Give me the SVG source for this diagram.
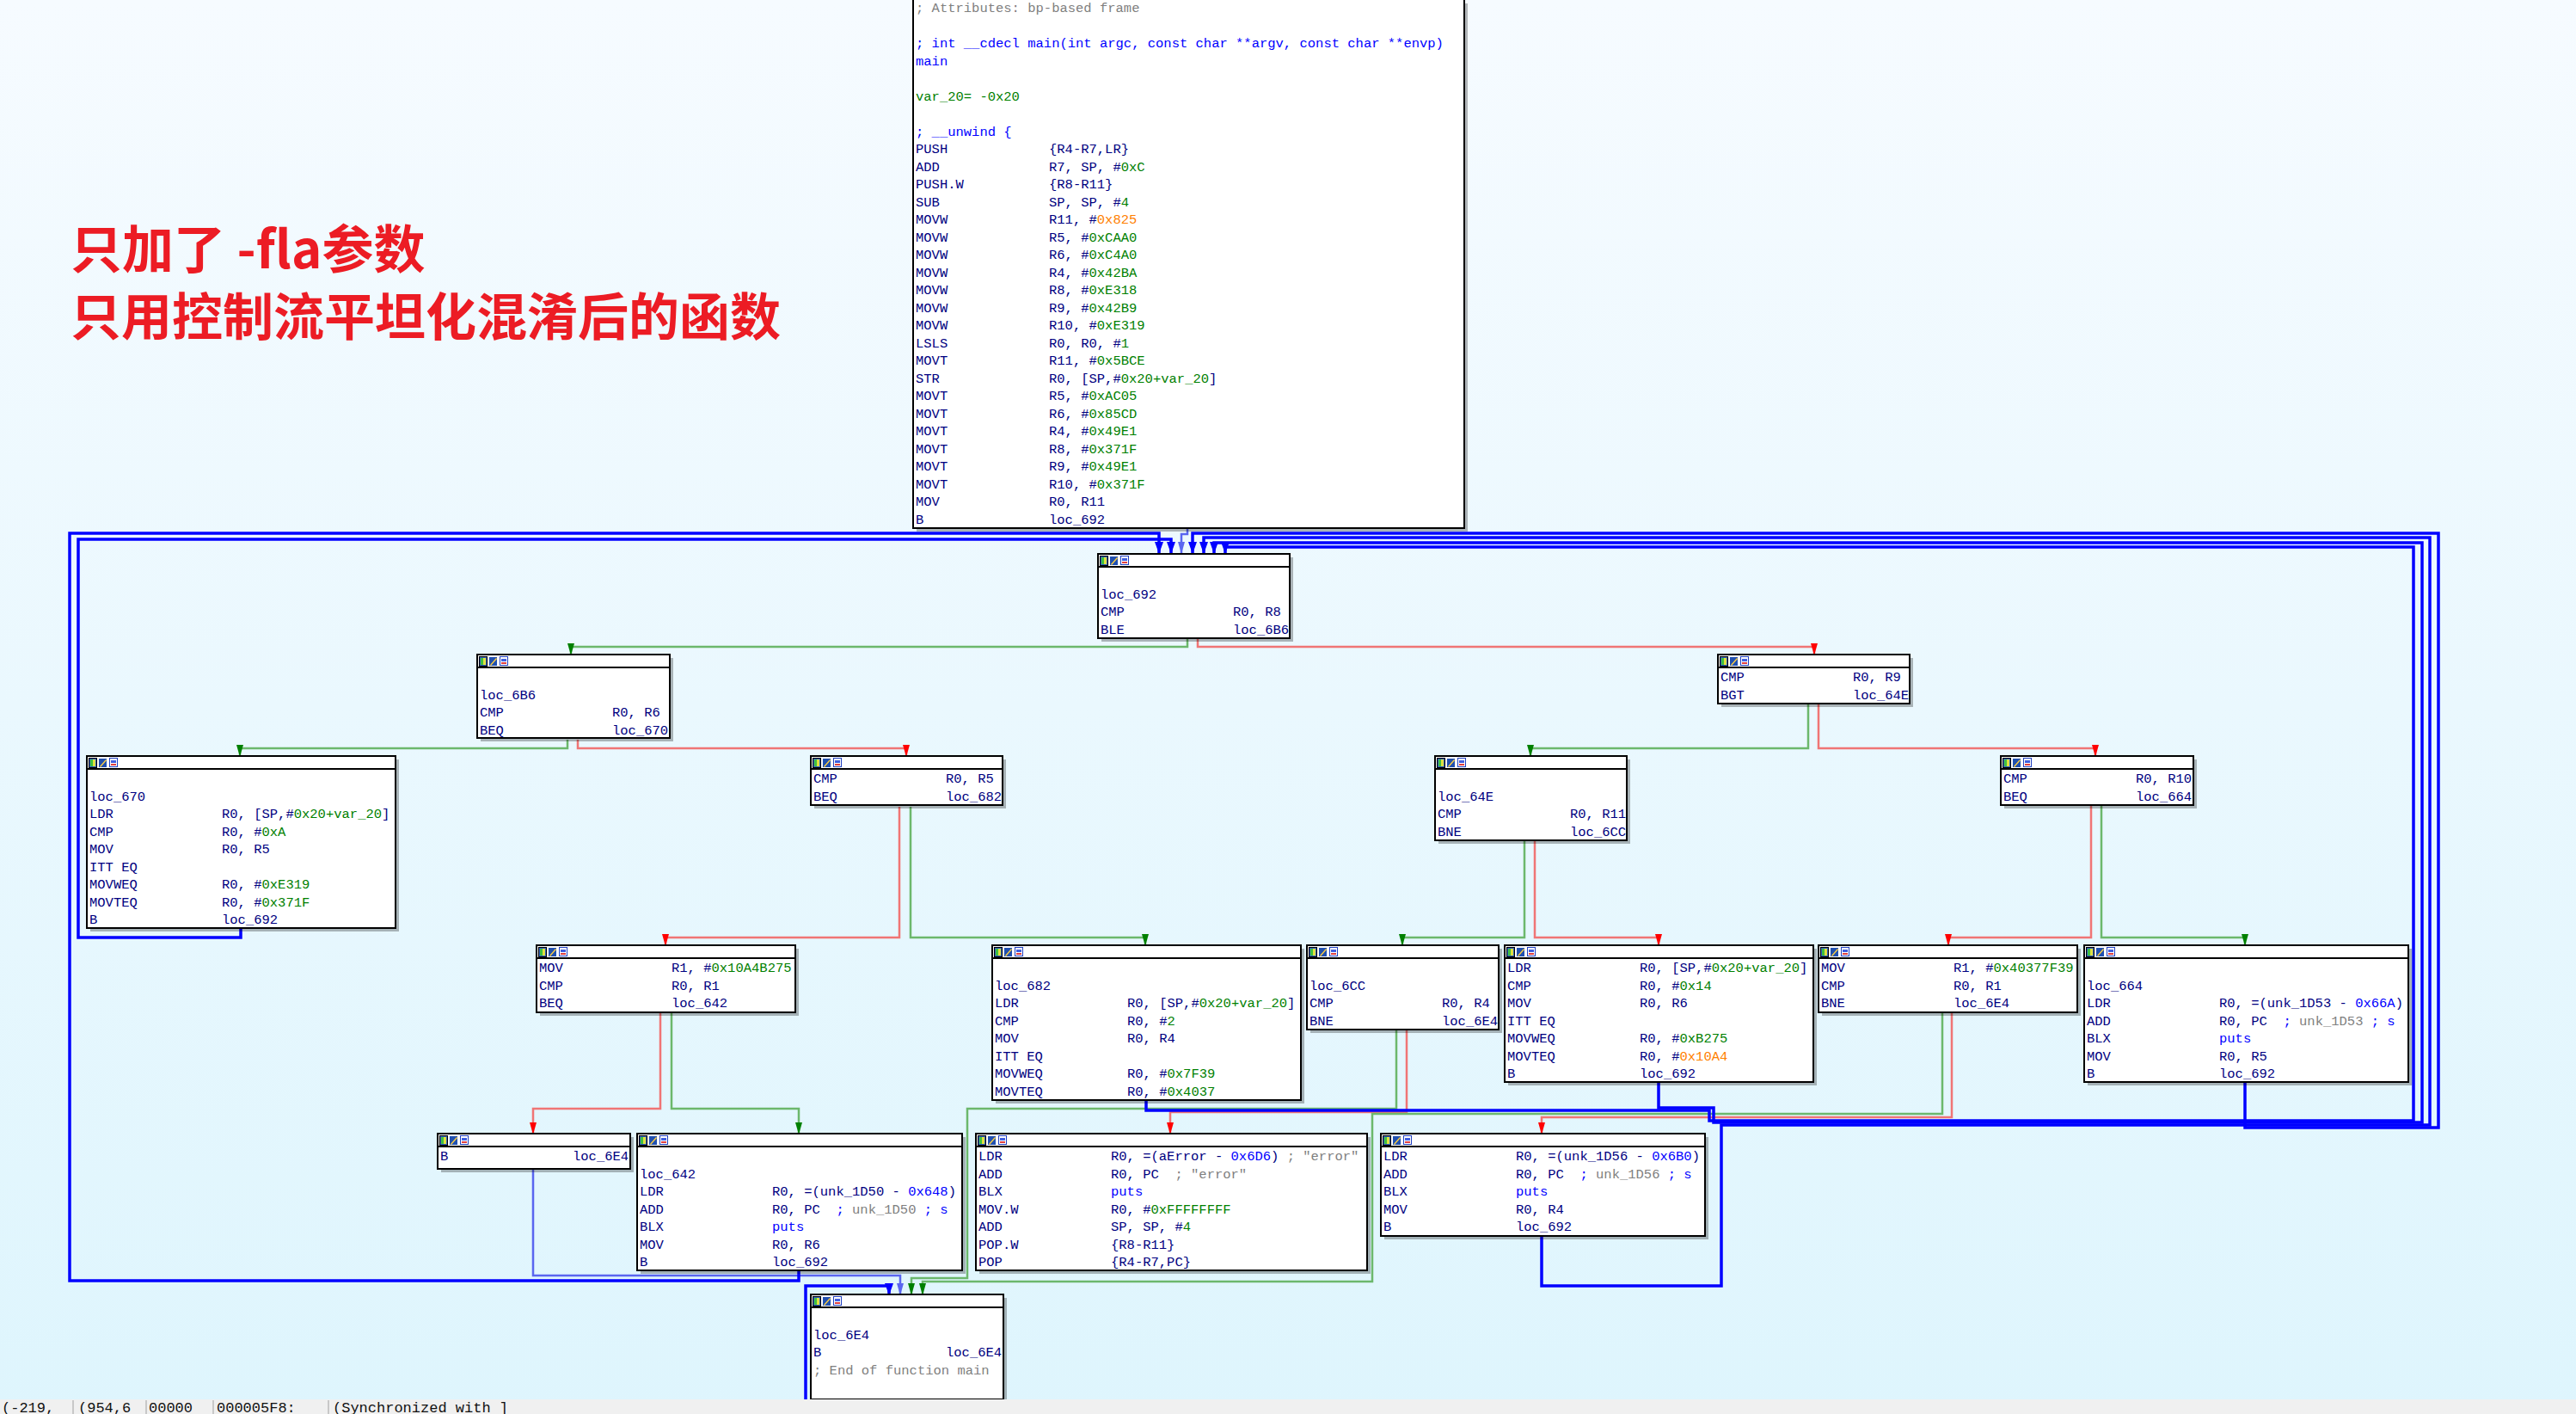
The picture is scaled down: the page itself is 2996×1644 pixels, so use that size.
<svg xmlns="http://www.w3.org/2000/svg" width="2996" height="1644" viewBox="0 0 2996 1644">
<defs>
<linearGradient id="bg" x1="0" y1="0" x2="0" y2="1"><stop offset="0" stop-color="#f6fbff"/><stop offset="1" stop-color="#def5fd"/></linearGradient>
<marker id="ab" markerUnits="userSpaceOnUse" markerWidth="12" markerHeight="14" refX="6" refY="13" orient="0" viewBox="0 0 12 14"><path d="M1 0 L11 0 L6 14 Z" fill="#0000ff"/></marker>
<marker id="al" markerUnits="userSpaceOnUse" markerWidth="12" markerHeight="14" refX="6" refY="13" orient="0" viewBox="0 0 12 14"><path d="M2 0 L10 0 L6 14 Z" fill="#5a66f0"/></marker>
<marker id="ag" markerUnits="userSpaceOnUse" markerWidth="10" markerHeight="14" refX="5" refY="13" orient="0" viewBox="0 0 10 14"><path d="M1 0 L9 0 L5 14 Z" fill="#008000"/></marker>
<marker id="ar" markerUnits="userSpaceOnUse" markerWidth="10" markerHeight="14" refX="5" refY="13" orient="0" viewBox="0 0 10 14"><path d="M1 0 L9 0 L5 14 Z" fill="#ff0000"/></marker>
<symbol id="ic" viewBox="0 0 34 12" width="34" height="12">
<rect x="0.5" y="0.5" width="9" height="11" fill="#3060c0" stroke="#000" stroke-width="1"/><rect x="2" y="2" width="3" height="8" fill="#40c040"/><rect x="5" y="2" width="3" height="8" fill="#e0e040"/>
<rect x="12" y="1" width="9" height="10" fill="#2050b0"/><path d="M13 10 L20 2 L21 3 L14 11 Z" fill="#ffd040"/>
<rect x="24.5" y="0.5" width="9" height="10" fill="#fff" stroke="#2040c0"/><rect x="26" y="3" width="6" height="3" fill="#4060e0"/><rect x="26" y="7" width="6" height="2" fill="#e04040"/>
</symbol>
</defs>
<style>
.t{font-family:"Liberation Mono","DejaVu Sans Mono",monospace;font-size:15.5px;fill:#000080;white-space:pre}
.n{fill:#008000}.o{fill:#ff8000}.g{fill:#808080}.b{fill:#0000ff}
.box{fill:#ffffff;stroke:#000;stroke-width:2}
.sh{fill:#000;opacity:0.28}
.hd{stroke:#000;stroke-width:2}
.eg{fill:none;stroke:#6cb86c;stroke-width:2.5}
.er{fill:none;stroke:#f07575;stroke-width:2.5}
.eb{fill:none;stroke:#0000ff;stroke-width:3.5}
.el{fill:none;stroke:#5a66f0;stroke-width:2.5}
.title{font-family:"Noto Sans CJK SC","Noto Sans",sans-serif;font-weight:bold;fill:#ec1c24}
.st{font-family:"Liberation Mono",monospace;font-size:17px;fill:#111;white-space:pre}
</style>
<rect width="2996" height="1644" fill="url(#bg)"/>
<text class="title" x="82" y="312" font-size="60">只加了 -fla参数</text>
<text class="title" x="82" y="390" font-size="59">只用控制流平坦化混淆后的函数</text>

<g id="connectors">
<path class="eg" d="M1381 742 V752 H664 V761" marker-end="url(#ag)"/>
<path class="er" d="M1393 742 V752 H2110 V761" marker-end="url(#ar)"/>
<path class="eg" d="M660 860 V870 H279 V879" marker-end="url(#ag)"/>
<path class="er" d="M672 860 V870 H1054 V879" marker-end="url(#ar)"/>
<path class="eg" d="M2103 818 V870 H1780 V879" marker-end="url(#ag)"/>
<path class="er" d="M2115 818 V870 H2437 V879" marker-end="url(#ar)"/>
<path class="er" d="M1046 938 V1090 H774 V1099" marker-end="url(#ar)"/>
<path class="eg" d="M1059 938 V1090 H1332 V1099" marker-end="url(#ag)"/>
<path class="eg" d="M1773 978 V1090 H1631 V1099" marker-end="url(#ag)"/>
<path class="er" d="M1785 978 V1090 H1929 V1099" marker-end="url(#ar)"/>
<path class="er" d="M2432 936 V1090 H2266 V1099" marker-end="url(#ar)"/>
<path class="eg" d="M2444 936 V1090 H2611 V1099" marker-end="url(#ag)"/>
<path class="er" d="M768 1177 V1289 H620 V1318" marker-end="url(#ar)"/>
<path class="eg" d="M781 1177 V1289 H929 V1318" marker-end="url(#ag)"/>
<path class="eg" d="M1624 1197 V1289 H1125 V1486 H1060 V1505" marker-end="url(#ag)"/>
<path class="er" d="M1636 1197 V1293 H1361 V1318" marker-end="url(#ar)"/>
<path class="eg" d="M2259 1177 V1295 H1596 V1490 H1073 V1505" marker-end="url(#ag)"/>
<path class="er" d="M2270 1177 V1299 H1793 V1318" marker-end="url(#ar)"/>
<path class="el" d="M620 1359 V1483 H1047 V1505" marker-end="url(#al)"/>
<path class="el" d="M1381 614 V621 H1374 V643" marker-end="url(#al)"/>
<path class="eb" d="M929 1477 V1489 H81 V620 H1348 V643" marker-end="url(#ab)"/>
<path class="eb" d="M280 1078 V1090 H91 V627 H1362 V643" marker-end="url(#ab)"/>
<path class="eb" d="M1333 1279 V1291 H1988 V1303 H2807 V636 H1425 V643" marker-end="url(#ab)"/>
<path class="eb" d="M1929 1258 V1288 H1993 V1305 H2817 V631 H1412 V643" marker-end="url(#ab)"/>
<path class="eb" d="M1793 1437 V1495 H2002 V1308 H2826 V625 H1400 V643" marker-end="url(#ab)"/>
<path class="eb" d="M2611 1258 V1311 H2836 V620 H1387 V643" marker-end="url(#ab)"/>
<path class="eb" d="M1054 1623 V1644 M937 1627 V1495 H1034 V1505" marker-end="url(#ab)"/>
</g>

<g id="n_main">
<rect class="sh" x="1066" y="4" width="641" height="614"/>
<rect class="box" x="1062" y="-2" width="641" height="616"/>
<text class="t g" x="1065" y="14">; Attributes: bp-based frame</text>
<text class="t b" x="1065" y="55">; int __cdecl main(int argc, const char **argv, const char **envp)</text>
<text class="t b" x="1065" y="75.5">main</text>
<text class="t n" x="1065" y="116.5">var_20= -0x20</text>
<text class="t b" x="1065" y="157.5">; __unwind {</text>
<text class="t" x="1065" y="178">PUSH</text><text class="t" x="1220" y="178">{R4-R7,LR}</text>
<text class="t" x="1065" y="198.5">ADD</text><text class="t" x="1220" y="198.5">R7, SP, #<tspan class="n">0xC</tspan></text>
<text class="t" x="1065" y="219">PUSH.W</text><text class="t" x="1220" y="219">{R8-R11}</text>
<text class="t" x="1065" y="239.5">SUB</text><text class="t" x="1220" y="239.5">SP, SP, #<tspan class="n">4</tspan></text>
<text class="t" x="1065" y="260">MOVW</text><text class="t" x="1220" y="260">R11, #<tspan class="o">0x825</tspan></text>
<text class="t" x="1065" y="280.5">MOVW</text><text class="t" x="1220" y="280.5">R5, #<tspan class="n">0xCAA0</tspan></text>
<text class="t" x="1065" y="301">MOVW</text><text class="t" x="1220" y="301">R6, #<tspan class="n">0xC4A0</tspan></text>
<text class="t" x="1065" y="321.5">MOVW</text><text class="t" x="1220" y="321.5">R4, #<tspan class="n">0x42BA</tspan></text>
<text class="t" x="1065" y="342">MOVW</text><text class="t" x="1220" y="342">R8, #<tspan class="n">0xE318</tspan></text>
<text class="t" x="1065" y="362.5">MOVW</text><text class="t" x="1220" y="362.5">R9, #<tspan class="n">0x42B9</tspan></text>
<text class="t" x="1065" y="383">MOVW</text><text class="t" x="1220" y="383">R10, #<tspan class="n">0xE319</tspan></text>
<text class="t" x="1065" y="403.5">LSLS</text><text class="t" x="1220" y="403.5">R0, R0, #<tspan class="n">1</tspan></text>
<text class="t" x="1065" y="424">MOVT</text><text class="t" x="1220" y="424">R11, #<tspan class="n">0x5BCE</tspan></text>
<text class="t" x="1065" y="444.5">STR</text><text class="t" x="1220" y="444.5">R0, [SP,#<tspan class="n">0x20+var_20</tspan>]</text>
<text class="t" x="1065" y="465">MOVT</text><text class="t" x="1220" y="465">R5, #<tspan class="n">0xAC05</tspan></text>
<text class="t" x="1065" y="485.5">MOVT</text><text class="t" x="1220" y="485.5">R6, #<tspan class="n">0x85CD</tspan></text>
<text class="t" x="1065" y="506">MOVT</text><text class="t" x="1220" y="506">R4, #<tspan class="n">0x49E1</tspan></text>
<text class="t" x="1065" y="526.5">MOVT</text><text class="t" x="1220" y="526.5">R8, #<tspan class="n">0x371F</tspan></text>
<text class="t" x="1065" y="547">MOVT</text><text class="t" x="1220" y="547">R9, #<tspan class="n">0x49E1</tspan></text>
<text class="t" x="1065" y="567.5">MOVT</text><text class="t" x="1220" y="567.5">R10, #<tspan class="n">0x371F</tspan></text>
<text class="t" x="1065" y="588">MOV</text><text class="t" x="1220" y="588">R0, R11</text>
<text class="t" x="1065" y="608.5">B</text><text class="t" x="1220" y="608.5">loc_692</text>
</g>

<g id="n_692">
<rect class="sh" x="1281" y="648" width="223" height="98"/>
<rect class="box" x="1277" y="644" width="223" height="98"/>
<line class="hd" x1="1277" y1="659" x2="1500" y2="659"/><use href="#ic" x="1279" y="646"/>
<text class="t" x="1280" y="695.5">loc_692</text>
<text class="t" x="1280" y="716">CMP</text><text class="t" x="1434" y="716">R0, R8</text>
<text class="t" x="1280" y="736.5">BLE</text><text class="t" x="1434" y="736.5">loc_6B6</text>
</g>

<g id="n_6B6">
<rect class="sh" x="559" y="765" width="224" height="97"/>
<rect class="box" x="555" y="761" width="224" height="97"/>
<line class="hd" x1="555" y1="776" x2="779" y2="776"/><use href="#ic" x="557" y="763"/>
<text class="t" x="558" y="812.5">loc_6B6</text>
<text class="t" x="558" y="833">CMP</text><text class="t" x="712" y="833">R0, R6</text>
<text class="t" x="558" y="853.5">BEQ</text><text class="t" x="712" y="853.5">loc_670</text>
</g>

<g id="n_bgt">
<rect class="sh" x="2002" y="765" width="223" height="57"/>
<rect class="box" x="1998" y="761" width="223" height="57"/>
<line class="hd" x1="1998" y1="776" x2="2221" y2="776"/><use href="#ic" x="2000" y="763"/>
<text class="t" x="2001" y="792">CMP</text><text class="t" x="2155" y="792">R0, R9</text>
<text class="t" x="2001" y="812.5">BGT</text><text class="t" x="2155" y="812.5">loc_64E</text>
</g>

<g id="n_670">
<rect class="sh" x="105" y="883" width="359" height="200"/>
<rect class="box" x="101" y="879" width="359" height="200"/>
<line class="hd" x1="101" y1="894" x2="460" y2="894"/><use href="#ic" x="103" y="881"/>
<text class="t" x="104" y="930.5">loc_670</text>
<text class="t" x="104" y="951">LDR</text><text class="t" x="258" y="951">R0, [SP,#<tspan class="n">0x20+var_20</tspan>]</text>
<text class="t" x="104" y="971.5">CMP</text><text class="t" x="258" y="971.5">R0, #<tspan class="n">0xA</tspan></text>
<text class="t" x="104" y="992">MOV</text><text class="t" x="258" y="992">R0, R5</text>
<text class="t" x="104" y="1012.5">ITT EQ</text>
<text class="t" x="104" y="1033">MOVWEQ</text><text class="t" x="258" y="1033">R0, #<tspan class="n">0xE319</tspan></text>
<text class="t" x="104" y="1053.5">MOVTEQ</text><text class="t" x="258" y="1053.5">R0, #<tspan class="n">0x371F</tspan></text>
<text class="t" x="104" y="1074">B</text><text class="t" x="258" y="1074">loc_692</text>
</g>

<g id="n_beq682">
<rect class="sh" x="947" y="883" width="223" height="57"/>
<rect class="box" x="943" y="879" width="223" height="57"/>
<line class="hd" x1="943" y1="894" x2="1166" y2="894"/><use href="#ic" x="945" y="881"/>
<text class="t" x="946" y="910">CMP</text><text class="t" x="1100" y="910">R0, R5</text>
<text class="t" x="946" y="930.5">BEQ</text><text class="t" x="1100" y="930.5">loc_682</text>
</g>

<g id="n_64E">
<rect class="sh" x="1673" y="883" width="223" height="98"/>
<rect class="box" x="1669" y="879" width="223" height="98"/>
<line class="hd" x1="1669" y1="894" x2="1892" y2="894"/><use href="#ic" x="1671" y="881"/>
<text class="t" x="1672" y="930.5">loc_64E</text>
<text class="t" x="1672" y="951">CMP</text><text class="t" x="1826" y="951">R0, R11</text>
<text class="t" x="1672" y="971.5">BNE</text><text class="t" x="1826" y="971.5">loc_6CC</text>
</g>

<g id="n_beq664">
<rect class="sh" x="2331" y="883" width="224" height="57"/>
<rect class="box" x="2327" y="879" width="224" height="57"/>
<line class="hd" x1="2327" y1="894" x2="2551" y2="894"/><use href="#ic" x="2329" y="881"/>
<text class="t" x="2330" y="910">CMP</text><text class="t" x="2484" y="910">R0, R10</text>
<text class="t" x="2330" y="930.5">BEQ</text><text class="t" x="2484" y="930.5">loc_664</text>
</g>

<g id="n_mov10A4">
<rect class="sh" x="628" y="1103" width="301" height="78"/>
<rect class="box" x="624" y="1099" width="301" height="78"/>
<line class="hd" x1="624" y1="1114" x2="925" y2="1114"/><use href="#ic" x="626" y="1101"/>
<text class="t" x="627" y="1130">MOV</text><text class="t" x="781" y="1130">R1, #<tspan class="n">0x10A4B275</tspan></text>
<text class="t" x="627" y="1150.5">CMP</text><text class="t" x="781" y="1150.5">R0, R1</text>
<text class="t" x="627" y="1171">BEQ</text><text class="t" x="781" y="1171">loc_642</text>
</g>

<g id="n_682">
<rect class="sh" x="1158" y="1103" width="359" height="180"/>
<rect class="box" x="1154" y="1099" width="359" height="180"/>
<line class="hd" x1="1154" y1="1114" x2="1513" y2="1114"/><use href="#ic" x="1156" y="1101"/>
<text class="t" x="1157" y="1150.5">loc_682</text>
<text class="t" x="1157" y="1171">LDR</text><text class="t" x="1311" y="1171">R0, [SP,#<tspan class="n">0x20+var_20</tspan>]</text>
<text class="t" x="1157" y="1191.5">CMP</text><text class="t" x="1311" y="1191.5">R0, #<tspan class="n">2</tspan></text>
<text class="t" x="1157" y="1212">MOV</text><text class="t" x="1311" y="1212">R0, R4</text>
<text class="t" x="1157" y="1232.5">ITT EQ</text>
<text class="t" x="1157" y="1253">MOVWEQ</text><text class="t" x="1311" y="1253">R0, #<tspan class="n">0x7F39</tspan></text>
<text class="t" x="1157" y="1273.5">MOVTEQ</text><text class="t" x="1311" y="1273.5">R0, #<tspan class="n">0x4037</tspan></text>
</g>

<g id="n_6CC">
<rect class="sh" x="1524" y="1103" width="223" height="98"/>
<rect class="box" x="1520" y="1099" width="223" height="98"/>
<line class="hd" x1="1520" y1="1114" x2="1743" y2="1114"/><use href="#ic" x="1522" y="1101"/>
<text class="t" x="1523" y="1150.5">loc_6CC</text>
<text class="t" x="1523" y="1171">CMP</text><text class="t" x="1677" y="1171">R0, R4</text>
<text class="t" x="1523" y="1191.5">BNE</text><text class="t" x="1677" y="1191.5">loc_6E4</text>
</g>

<g id="n_ldr14">
<rect class="sh" x="1754" y="1103" width="359" height="159"/>
<rect class="box" x="1750" y="1099" width="359" height="159"/>
<line class="hd" x1="1750" y1="1114" x2="2109" y2="1114"/><use href="#ic" x="1752" y="1101"/>
<text class="t" x="1753" y="1130">LDR</text><text class="t" x="1907" y="1130">R0, [SP,#<tspan class="n">0x20+var_20</tspan>]</text>
<text class="t" x="1753" y="1150.5">CMP</text><text class="t" x="1907" y="1150.5">R0, #<tspan class="n">0x14</tspan></text>
<text class="t" x="1753" y="1171">MOV</text><text class="t" x="1907" y="1171">R0, R6</text>
<text class="t" x="1753" y="1191.5">ITT EQ</text>
<text class="t" x="1753" y="1212">MOVWEQ</text><text class="t" x="1907" y="1212">R0, #<tspan class="n">0xB275</tspan></text>
<text class="t" x="1753" y="1232.5">MOVTEQ</text><text class="t" x="1907" y="1232.5">R0, #<tspan class="o">0x10A4</tspan></text>
<text class="t" x="1753" y="1253">B</text><text class="t" x="1907" y="1253">loc_692</text>
</g>

<g id="n_mov4037">
<rect class="sh" x="2119" y="1103" width="301" height="78"/>
<rect class="box" x="2115" y="1099" width="301" height="78"/>
<line class="hd" x1="2115" y1="1114" x2="2416" y2="1114"/><use href="#ic" x="2117" y="1101"/>
<text class="t" x="2118" y="1130">MOV</text><text class="t" x="2272" y="1130">R1, #<tspan class="n">0x40377F39</tspan></text>
<text class="t" x="2118" y="1150.5">CMP</text><text class="t" x="2272" y="1150.5">R0, R1</text>
<text class="t" x="2118" y="1171">BNE</text><text class="t" x="2272" y="1171">loc_6E4</text>
</g>

<g id="n_664">
<rect class="sh" x="2428" y="1103" width="377" height="159"/>
<rect class="box" x="2424" y="1099" width="377" height="159"/>
<line class="hd" x1="2424" y1="1114" x2="2801" y2="1114"/><use href="#ic" x="2426" y="1101"/>
<text class="t" x="2427" y="1150.5">loc_664</text>
<text class="t" x="2427" y="1171">LDR</text><text class="t" x="2581" y="1171">R0, =(unk_1D53 - <tspan class="b">0x66A</tspan>)</text>
<text class="t" x="2427" y="1191.5">ADD</text><text class="t" x="2581" y="1191.5">R0, PC  <tspan class="b">; </tspan><tspan class="g">unk_1D53</tspan><tspan class="b"> ; s</tspan></text>
<text class="t" x="2427" y="1212">BLX</text><text class="t b" x="2581" y="1212">puts</text>
<text class="t" x="2427" y="1232.5">MOV</text><text class="t" x="2581" y="1232.5">R0, R5</text>
<text class="t" x="2427" y="1253">B</text><text class="t" x="2581" y="1253">loc_692</text>
</g>

<g id="n_b6E4">
<rect class="sh" x="513" y="1322" width="224" height="41"/>
<rect class="box" x="509" y="1318" width="224" height="41"/>
<line class="hd" x1="509" y1="1333" x2="733" y2="1333"/><use href="#ic" x="511" y="1320"/>
<text class="t" x="512" y="1349">B</text><text class="t" x="666" y="1349">loc_6E4</text>
</g>

<g id="n_642">
<rect class="sh" x="745" y="1322" width="378" height="159"/>
<rect class="box" x="741" y="1318" width="378" height="159"/>
<line class="hd" x1="741" y1="1333" x2="1119" y2="1333"/><use href="#ic" x="743" y="1320"/>
<text class="t" x="744" y="1369.5">loc_642</text>
<text class="t" x="744" y="1390">LDR</text><text class="t" x="898" y="1390">R0, =(unk_1D50 - <tspan class="b">0x648</tspan>)</text>
<text class="t" x="744" y="1410.5">ADD</text><text class="t" x="898" y="1410.5">R0, PC  <tspan class="b">; </tspan><tspan class="g">unk_1D50</tspan><tspan class="b"> ; s</tspan></text>
<text class="t" x="744" y="1431">BLX</text><text class="t b" x="898" y="1431">puts</text>
<text class="t" x="744" y="1451.5">MOV</text><text class="t" x="898" y="1451.5">R0, R6</text>
<text class="t" x="744" y="1472">B</text><text class="t" x="898" y="1472">loc_692</text>
</g>

<g id="n_error">
<rect class="sh" x="1139" y="1322" width="455" height="159"/>
<rect class="box" x="1135" y="1318" width="455" height="159"/>
<line class="hd" x1="1135" y1="1333" x2="1590" y2="1333"/><use href="#ic" x="1137" y="1320"/>
<text class="t" x="1138" y="1349">LDR</text><text class="t" x="1292" y="1349">R0, =(aError - <tspan class="b">0x6D6</tspan>) <tspan class="g">; "error"</tspan></text>
<text class="t" x="1138" y="1369.5">ADD</text><text class="t" x="1292" y="1369.5">R0, PC  <tspan class="g">; "error"</tspan></text>
<text class="t" x="1138" y="1390">BLX</text><text class="t b" x="1292" y="1390">puts</text>
<text class="t" x="1138" y="1410.5">MOV.W</text><text class="t" x="1292" y="1410.5">R0, #<tspan class="n">0xFFFFFFFF</tspan></text>
<text class="t" x="1138" y="1431">ADD</text><text class="t" x="1292" y="1431">SP, SP, #<tspan class="n">4</tspan></text>
<text class="t" x="1138" y="1451.5">POP.W</text><text class="t" x="1292" y="1451.5">{R8-R11}</text>
<text class="t" x="1138" y="1472">POP</text><text class="t" x="1292" y="1472">{R4-R7,PC}</text>
</g>

<g id="n_1D56">
<rect class="sh" x="1610" y="1322" width="377" height="119"/>
<rect class="box" x="1606" y="1318" width="377" height="119"/>
<line class="hd" x1="1606" y1="1333" x2="1983" y2="1333"/><use href="#ic" x="1608" y="1320"/>
<text class="t" x="1609" y="1349">LDR</text><text class="t" x="1763" y="1349">R0, =(unk_1D56 - <tspan class="b">0x6B0</tspan>)</text>
<text class="t" x="1609" y="1369.5">ADD</text><text class="t" x="1763" y="1369.5">R0, PC  <tspan class="b">; </tspan><tspan class="g">unk_1D56</tspan><tspan class="b"> ; s</tspan></text>
<text class="t" x="1609" y="1390">BLX</text><text class="t b" x="1763" y="1390">puts</text>
<text class="t" x="1609" y="1410.5">MOV</text><text class="t" x="1763" y="1410.5">R0, R4</text>
<text class="t" x="1609" y="1431">B</text><text class="t" x="1763" y="1431">loc_692</text>
</g>

<g id="n_6E4">
<rect class="sh" x="947" y="1509" width="224" height="122"/>
<rect class="box" x="943" y="1505" width="224" height="122"/>
<line class="hd" x1="943" y1="1520" x2="1167" y2="1520"/><use href="#ic" x="945" y="1507"/>
<text class="t" x="946" y="1556.5">loc_6E4</text>
<text class="t" x="946" y="1577">B</text><text class="t" x="1100" y="1577">loc_6E4</text>
<text class="t g" x="946" y="1597.5">; End of function main</text>
</g>

<g id="statusbar">
<rect x="0" y="1627" width="2996" height="17" fill="#f0f0f0"/>
<text class="st" x="2" y="1642">(-219,</text>
<line x1="85" y1="1628" x2="85" y2="1644" stroke="#a0a0a0"/>
<text class="st" x="91" y="1642">(954,6</text>
<line x1="170" y1="1628" x2="170" y2="1644" stroke="#a0a0a0"/>
<text class="st" x="173" y="1642">00000</text>
<line x1="248" y1="1628" x2="248" y2="1644" stroke="#a0a0a0"/>
<text class="st" x="252" y="1642">000005F8:</text>
<line x1="382" y1="1628" x2="382" y2="1644" stroke="#a0a0a0"/>
<text class="st" x="387" y="1642">(Synchronized with ]</text>
</g>
</svg>
